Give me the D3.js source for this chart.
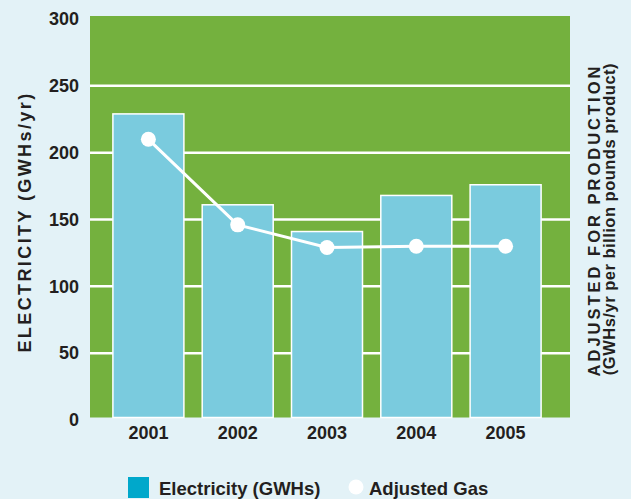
<!DOCTYPE html>
<html>
<head>
<meta charset="utf-8">
<script src="https://cdn.jsdelivr.net/npm/d3@7"></script>
<style>
  html, body { margin: 0; padding: 0; background: #e3f2f7; }
  #chart { width: 631px; height: 499px; }
  text { font-family: "Liberation Sans", Arial, sans-serif; font-weight: bold; fill: #231f20; }
</style>
</head>
<body>
<div id="chart"></div>
<script>
// chart data
const years = ['2001', '2002', '2003', '2004', '2005'];
const electricity = [229, 161, 141, 168, 176];
const adjustedGas = [210, 146, 129, 130, 130];
const yTicks = [0, 50, 100, 150, 200, 250, 300];

document.addEventListener('DOMContentLoaded', () => {
    const width = 631, height = 499;
    const plot = { left: 90, right: 570, top: 16, bottom: 417.5 };

    const svg = d3.select('#chart')
        .append('svg')
        .attr('width', width)
        .attr('height', height);

    const x = d3.scaleBand()
        .domain(years)
        .range([87, 567])
        .paddingInner(0.205)
        .paddingOuter(0.29);

    const y = d3.scaleLinear()
        .domain([0, 300])
        .range([420, 19]);

    // green plot area
    svg.append('rect')
        .attr('x', plot.left)
        .attr('y', plot.top)
        .attr('width', plot.right - plot.left)
        .attr('height', plot.bottom - plot.top)
        .attr('fill', '#74b13e');

    // white gridlines (no line at 0 or 300)
    svg.append('g')
        .selectAll('line')
        .data(yTicks.filter(t => t > 0 && t < 300))
        .enter()
        .append('line')
        .attr('x1', plot.left)
        .attr('x2', plot.right)
        .attr('y1', d => y(d))
        .attr('y2', d => y(d))
        .attr('stroke', '#fff')
        .attr('stroke-width', 2.5);

    // bars
    svg.append('g')
        .selectAll('rect')
        .data(electricity)
        .enter()
        .append('rect')
        .attr('x', (d, i) => x(years[i]))
        .attr('y', d => y(d))
        .attr('width', x.bandwidth())
        .attr('height', d => plot.bottom - y(d))
        .attr('fill', '#7acbde')
        .attr('stroke', '#fff')
        .attr('stroke-width', 1.5);

    // adjusted gas line
    const line = d3.line()
        .x((d, i) => x(years[i]) + x.bandwidth() / 2)
        .y(d => y(d));

    svg.append('path')
        .datum(adjustedGas)
        .attr('d', line)
        .attr('fill', 'none')
        .attr('stroke', '#fff')
        .attr('stroke-width', 3);

    svg.append('g')
        .selectAll('circle')
        .data(adjustedGas)
        .enter()
        .append('circle')
        .attr('cx', (d, i) => x(years[i]) + x.bandwidth() / 2)
        .attr('cy', d => y(d))
        .attr('r', 7.5)
        .attr('fill', '#fff');

    // y axis labels
    const yAxis = svg.append('g')
        .attr('transform', `translate(${plot.left},0)`)
        .call(d3.axisLeft(y).tickValues(yTicks).tickSize(0).tickPadding(11));
    yAxis.select('.domain').remove();
    yAxis.selectAll('text')
        .style('font-size', '18px')
        .style('font-family', '"Liberation Sans", Arial, sans-serif')
        .style('font-weight', 'bold')
        .attr('fill', '#231f20');

    // x axis labels
    const xAxis = svg.append('g')
        .attr('transform', `translate(0,${plot.bottom})`)
        .call(d3.axisBottom(x).tickSize(0).tickPadding(9));
    xAxis.select('.domain').remove();
    xAxis.selectAll('text')
        .style('font-size', '18px')
        .style('font-family', '"Liberation Sans", Arial, sans-serif')
        .style('font-weight', 'bold')
        .attr('fill', '#231f20');

    // left title
    svg.append('text')
        .attr('transform', 'translate(31,222) rotate(-90)')
        .attr('text-anchor', 'middle')
        .style('font-size', '18px')
        .style('letter-spacing', '2.4px')
        .text('ELECTRICITY (GWHs/yr)');

    // right title, two lines
    svg.append('text')
        .attr('transform', 'translate(600,220) rotate(-90)')
        .attr('text-anchor', 'middle')
        .style('font-size', '16.5px')
        .style('letter-spacing', '3px')
        .text('ADJUSTED FOR PRODUCTION');

    svg.append('text')
        .attr('transform', 'translate(614.5,219) rotate(-90)')
        .attr('text-anchor', 'middle')
        .style('font-size', '16.5px')
        .style('letter-spacing', '0.5px')
        .text('(GWHs/yr per billion pounds product)');

    // legend
    const legend = svg.append('g');
    legend.append('rect')
        .attr('x', 128)
        .attr('y', 477)
        .attr('width', 21)
        .attr('height', 21)
        .attr('fill', '#00a8cb');
    legend.append('text')
        .attr('x', 159)
        .attr('y', 495)
        .style('font-size', '18.5px')
        .text('Electricity (GWHs)');
    legend.append('circle')
        .attr('cx', 356)
        .attr('cy', 487)
        .attr('r', 7.5)
        .attr('fill', '#fff');
    legend.append('text')
        .attr('x', 369)
        .attr('y', 495)
        .style('font-size', '18.5px')
        .text('Adjusted Gas');
});
</script>
</body>
</html>
